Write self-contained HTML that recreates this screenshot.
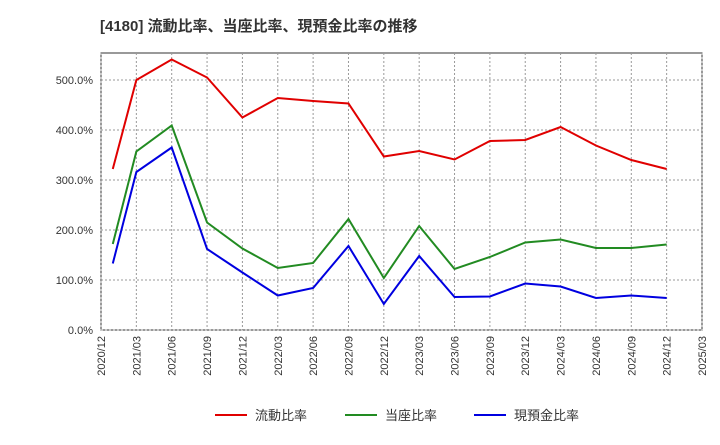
<!DOCTYPE html>
<html><head><meta charset="utf-8"><style>
body{margin:0;background:#fff;font-family:"Liberation Sans","Noto Sans CJK JP",sans-serif}
</style></head><body>
<svg id="c" width="720" height="440" xmlns="http://www.w3.org/2000/svg">
<text x="100" y="31" font-size="15" font-weight="bold" fill="#333" font-family="Liberation Sans, Noto Sans CJK JP, sans-serif">[4180]  流動比率、当座比率、現預金比率の推移</text>
</svg>
<script>
const months = [1,3,6,9,12,15,18,21,24,27,30,33,36,39,42,45,48];
const currentRatio = [322,500,541,505,425,464,458,453,347,358,341,378,380,406,369,340,322];
const quickRatio = [172,357,409,215,163,124,134,222,104,208,122,146,175,181,164,164,171];
const cashRatio = [133,316,365,162,115,69,84,168,52,148,66,67,93,87,64,69,64];
const yTicks = [0,100,200,300,400,500];
const xTickLabels = ["2020/12","2021/03","2021/06","2021/09","2021/12","2022/03","2022/06","2022/09","2022/12","2023/03","2023/06","2023/09","2023/12","2024/03","2024/06","2024/09","2024/12","2025/03"];
const svg=document.getElementById('c');const NS='http://www.w3.org/2000/svg';
const L=101,R=702,T=53,B=330;
const xs=m=>L+(R-L)*m/51;
const ys=v=>B-v*0.5;
function mk(t,a,p){const e=document.createElementNS(NS,t);for(const k in a)e.setAttribute(k,a[k]);(p||svg).appendChild(e);return e;}
mk('rect',{x:L,y:T,width:R-L,height:B-T,fill:'none',stroke:'#333','stroke-width':1});
yTicks.forEach(v=>{
 const g=mk('line',{x1:L,x2:R,y1:ys(v),y2:ys(v),stroke:'#999','stroke-dasharray':'2,2'});
 
 const t=mk('text',{x:L-8,y:ys(v)+4,'text-anchor':'end','font-size':11,fill:'#333'});t.textContent=v.toFixed(1)+'%';
 
});
xTickLabels.forEach((s,i)=>{
 const x=xs(i*3);
 const g=mk('line',{x1:x,x2:x,y1:T,y2:B,stroke:'#999','stroke-dasharray':'2,2'});
 
 const t=mk('text',{transform:`translate(${x+4},${B+6}) rotate(-90)`,'text-anchor':'end','font-size':11,fill:'#333'});t.textContent=s;
 
});
const series=[[currentRatio,'#e00000','current-ratio-line'],[quickRatio,'#228b22','quick-ratio-line'],[cashRatio,'#0000e0','cash-ratio-line']];
series.forEach(([d,c,n])=>{
 const p=mk('polyline',{points:d.map((v,i)=>xs(months[i])+','+ys(v)).join(' '),fill:'none',stroke:c,'stroke-width':2});
 
});
const leg=[['流動比率','#e00000',215],['当座比率','#228b22',345],['現預金比率','#0000e0',474]];
leg.forEach(([s,c,x])=>{
 const g=mk('g',{});
 mk('line',{x1:x,x2:x+32,y1:415,y2:415,stroke:c,'stroke-width':2},g);
 const t=mk('text',{x:x+40,y:420,'font-size':13,fill:'#333'},g);t.textContent=s;
});
</script>
</body></html>
